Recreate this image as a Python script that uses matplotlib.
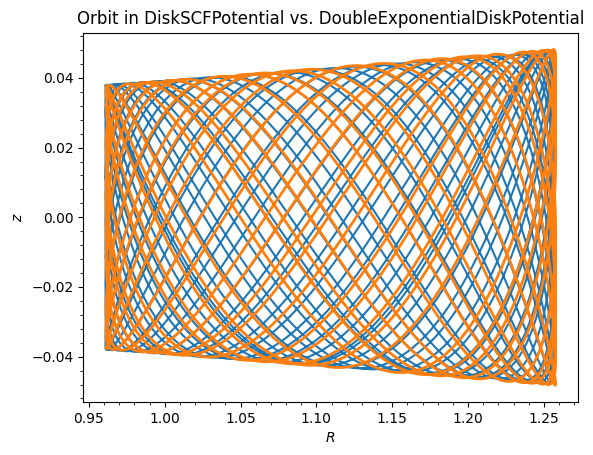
import matplotlib.pyplot as plt
import numpy as np

# orbit parameters
R_lim_scf = [0.961, 1.2565]      # peri / apo radius, DiskSCFPotential orbit
R_lim_dexp = [0.9615, 1.2578]    # peri / apo radius, DoubleExponentialDiskPotential orbit
z_amp_scf = [0.0380, 0.0475]     # vertical amplitude at peri / apo
z_amp_dexp = [0.0378, 0.0482]
freq_ratio = [2.206, 2.214]      # nu_z / kappa for the two orbits
start_phase = [0.3, -1.2]        # vertical phase at pericentre
n_periods = [17, 11]             # radial periods covered by each orbit


def orbit(R_lim, z_amp, ratio, phase, nper):
    t = np.linspace(0, 2 * np.pi * nper, 20000)
    Rc = 0.5 * (R_lim[0] + R_lim[1])
    A = 0.5 * (R_lim[1] - R_lim[0])
    R = Rc - A * np.cos(t)
    Z = z_amp[0] + (R - R_lim[0]) / (R_lim[1] - R_lim[0]) * (z_amp[1] - z_amp[0])
    z = Z * np.sin(ratio * t + phase)
    return R, z


R1, z1 = orbit(R_lim_scf, z_amp_scf, freq_ratio[0], start_phase[0], n_periods[0])
R2, z2 = orbit(R_lim_dexp, z_amp_dexp, freq_ratio[1], start_phase[1], n_periods[1])

fig = plt.figure(figsize=(5.93, 4.55))
ax = fig.add_axes([0.140, 0.1165, 0.835, 0.8115])

ax.plot(R1, z1, color='C0', lw=1.5)
ax.plot(R2, z2, color='C1', lw=2)

ax.set_xlabel(r'$R$')
ax.set_ylabel(r'$z$')
ax.set_title('Orbit in DiskSCFPotential vs. DoubleExponentialDiskPotential')
ax.set_yticks([-0.04, -0.02, 0.0, 0.02, 0.04])
ax.minorticks_on()
ax.xaxis.set_minor_locator(plt.MultipleLocator(0.01))
ax.yaxis.set_minor_locator(plt.MultipleLocator(0.004))

plt.savefig('out.png', dpi=100)
